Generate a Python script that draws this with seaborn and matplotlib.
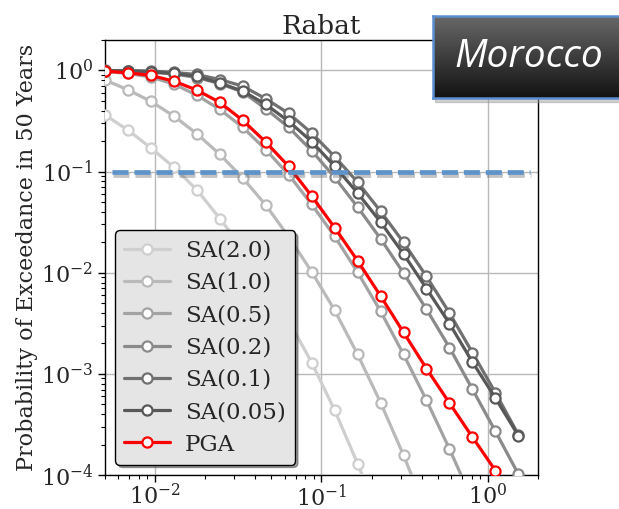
import numpy as np
import pandas as pd
import seaborn as sns
import matplotlib
matplotlib.use("Agg")
import matplotlib.pyplot as plt
from matplotlib.colors import LinearSegmentedColormap
from matplotlib.patches import Rectangle
import matplotlib.patheffects as pe

# Intensity measure levels (g)
iml = [0.005, 0.00687, 0.00944, 0.01297, 0.01782, 0.02449, 0.03365, 0.04624,
       0.06353, 0.0873, 0.1200, 0.1648, 0.2265, 0.3112, 0.4276, 0.5876,
       0.8074, 1.109, 1.524]

# Probability of exceedance in 50 years for each intensity measure
sa_2_0 = [0.363, 0.257, 0.1714, 0.1102, 0.0661, 0.03436, 0.01722, 0.00787,
          0.00336, 0.001294, 0.000437, 0.0001297, 0.0000355]
sa_1_0 = [0.804, 0.644, 0.494, 0.354, 0.2366, 0.148, 0.0863, 0.0468, 0.02265,
          0.01023, 0.00425, 0.00156, 0.00052, 0.000157, 0.0000427]
sa_0_5 = [0.977, 0.933, 0.861, 0.733, 0.569, 0.412, 0.274, 0.165, 0.0931,
          0.0474, 0.0229, 0.0101, 0.00416, 0.00156, 0.000548, 0.000181,
          0.0000562]
sa_0_2 = [0.989, 0.977, 0.959, 0.923, 0.851, 0.741, 0.611, 0.418, 0.274,
          0.161, 0.0877, 0.0446, 0.0217, 0.00993, 0.00435, 0.00182, 0.000705,
          0.000271, 0.000102]
sa_0_1 = [1.0, 0.995, 0.986, 0.955, 0.912, 0.813, 0.700, 0.525, 0.376, 0.2404,
          0.1406, 0.0787, 0.0405, 0.01995, 0.00920, 0.00400, 0.00162,
          0.000653, 0.000251]
sa_0_05 = [0.993, 0.989, 0.973, 0.933, 0.875, 0.750, 0.625, 0.462, 0.314,
           0.198, 0.113, 0.0614, 0.0317, 0.01535, 0.00697, 0.00314, 0.00131,
           0.000578, 0.000245]
pga = [0.984, 0.948, 0.893, 0.783, 0.640, 0.483, 0.321, 0.196, 0.1125,
       0.0573, 0.0279, 0.01315, 0.00589, 0.00257, 0.001127, 0.000515,
       0.000237, 0.0001107, 0.0000513]

labels = ["SA(2.0)", "SA(1.0)", "SA(0.5)", "SA(0.2)", "SA(0.1)", "SA(0.05)", "PGA"]
series = [sa_2_0, sa_1_0, sa_0_5, sa_0_2, sa_0_1, sa_0_05, pga]
colors = ["#cfcfcf", "#bababa", "#a3a3a3", "#8a8a8a", "#707070", "#585858", "#ff0000"]

poe_target = 0.1  # 10% in 50 years

sns.set_style("ticks")
plt.rcParams["font.family"] = ["DejaVu Serif"]
plt.rcParams["mathtext.fontset"] = "dejavuserif"

fig = plt.figure(figsize=(6.19, 5.09), dpi=100)
ax = fig.add_axes([0.1696, 0.0668, 0.6995, 0.8546])

for lab, vals, col in zip(labels, series, colors):
    df = pd.DataFrame({"iml": iml[:len(vals)], "poe": vals})
    sns.lineplot(data=df, x="iml", y="poe", ax=ax, color=col, lw=2.3,
                 marker="o", markersize=7.3, markerfacecolor="white",
                 markeredgecolor=col, markeredgewidth=1.6, label=lab,
                 zorder=3)

ax.plot([0.0055, 1.8], [poe_target, poe_target], color="#5e93ca", lw=3.4,
        linestyle=(0, (3.4, 1.25)), zorder=4,
        path_effects=[pe.SimpleLineShadow(offset=(0.5, -2.5),
                                          shadow_color="#555555", alpha=0.35),
                      pe.Normal()])

ax.set_xscale("log")
ax.set_yscale("log")
ax.set_xlim(0.005, 2.0)
ax.set_ylim(1e-4, 2.0)
ax.grid(True, which="major", color="#b8b8b8", lw=1.0)
ax.set_axisbelow(True)
for s in ax.spines.values():
    s.set_color("black")
    s.set_linewidth(1.0)
ax.tick_params(axis="both", which="major", labelsize=16, length=5, width=1,
               color="black")
ax.tick_params(axis="x", which="major", pad=1.5)
ax.tick_params(axis="both", which="minor", length=3, width=0.8, color="black")
ax.set_xlabel("")
ax.set_ylabel("Probability of Exceedance in 50 Years", fontsize=16,
              labelpad=2)
ax.set_title("Rabat", fontsize=19, pad=4)

leg = ax.legend(loc="lower left", fontsize=16.5, frameon=True, fancybox=True,
                shadow=True, framealpha=1.0, labelspacing=0.45,
                handlelength=2.0, handletextpad=0.65, borderaxespad=0.45)
leg.get_frame().set_facecolor("#e5e5e5")
leg.get_frame().set_edgecolor("black")
leg.get_frame().set_linewidth(1.0)

# Country badge in the upper right corner
bx, by, bw, bh = 0.6995, 0.8075, 0.33, 0.1611
fig.patches.append(Rectangle((bx + 0.004, by - 0.008), bw, bh,
                             transform=fig.transFigure, color="#999999",
                             alpha=0.45, zorder=5))
badge = fig.add_axes([bx, by, bw, bh], zorder=6)
grad = np.linspace(0, 1, 256).reshape(-1, 1)
cmap = LinearSegmentedColormap.from_list("badge", ["#686868", "#121212"])
badge.imshow(grad, aspect="auto", cmap=cmap, extent=[0, 1, 0, 1])
badge.set_xticks([])
badge.set_yticks([])
for s in badge.spines.values():
    s.set_color("#5b8ed0")
    s.set_linewidth(1.8)
badge.text(0.47, 0.5, "Morocco", transform=badge.transAxes, color="white",
           fontsize=28, style="italic", family=["Open Sans"],
           ha="center", va="center")

fig.savefig("out.png", dpi=100)
